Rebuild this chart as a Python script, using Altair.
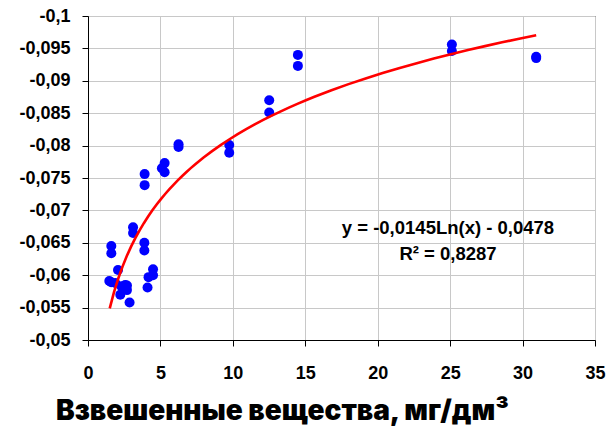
import altair as alt
import pandas as pd

# Scatter data
x_vals = [1.47, 1.61, 1.61, 1.60, 1.88, 2.07, 2.23, 2.30, 2.57, 2.69, 2.69, 2.87,
          3.11, 3.11, 3.89, 3.89, 3.91, 3.91, 4.11, 4.18, 4.49, 4.49,
          5.10, 5.29, 5.29, 6.25, 6.25, 9.75, 9.75, 12.51, 12.51, 14.49, 14.49,
          25.12, 25.12, 30.94, 30.94]
y_vals = [-0.0591, -0.0645, -0.0634, -0.0589, -0.0588, -0.0608, -0.0570, -0.0583, -0.0585, -0.0577, -0.0584, -0.0558,
          -0.0674, -0.0665, -0.0650, -0.0638, -0.0756, -0.0739, -0.0581, -0.0597, -0.0609, -0.0600,
          -0.0765, -0.0773, -0.0759, -0.0802, -0.0798, -0.0801, -0.0789, -0.0870, -0.0851, -0.0940, -0.0923,
          -0.0956, -0.0946, -0.0935, -0.0937]

x_ticks = [0, 5, 10, 15, 20, 25, 30, 35]
y_ticks = [-0.1, -0.095, -0.09, -0.085, -0.08, -0.075, -0.07, -0.065, -0.06, -0.055, -0.05]

eq_text = ["y = -0,0145Ln(x) - 0,0478", "R² = 0,8287"]
eq_x = [24.85, 24.85]
eq_y = [-0.0673, -0.0632]

x_title = "Взвешенные вещества, мг/дм³"

df = pd.DataFrame({"x": x_vals, "y": y_vals})
ann = pd.DataFrame({"t": eq_text, "x": eq_x, "y": eq_y})

xs = alt.Scale(domain=[0, 35], nice=False, zero=False)
ys = alt.Scale(domain=[-0.1, -0.05], nice=False, zero=False, reverse=True)

x_axis = alt.Axis(values=x_ticks, format="d", title=x_title, grid=True, labelOverlap=False,
                  labelFlush=False, labelBound=False,
                  labelFont="Liberation Sans", labelFontWeight="bold", labelFontSize=18,
                  labelColor="#000000", labelPadding=18, tickSize=6, tickColor="#000000",
                  domainColor="#000000", gridColor="#c8c8c8",
                  titleFont="Inter", titleFontWeight=900, titleFontSize=28,
                  titleColor="#000000", titleAlign="center", titleAnchor="start",
                  titleX=194, titleY=79, titleBaseline="alphabetic")
y_axis = alt.Axis(values=y_ticks, format=".3~f", title=None, grid=True, labelOverlap=False,
                  labelFlush=False, labelBound=False,
                  labelFont="Liberation Sans", labelFontWeight="bold", labelFontSize=18,
                  labelColor="#000000", labelPadding=12, tickSize=6, tickColor="#000000",
                  domainColor="#000000", gridColor="#c8c8c8")

X = alt.X("x:Q", scale=xs, axis=x_axis)
Y = alt.Y("y:Q", scale=ys, axis=y_axis)

base = alt.Chart(df)

points = base.mark_circle(color="#0000ff", opacity=1, size=100).encode(x=X, y=Y)

trend = base.transform_regression("x", "y", method="log", extent=[1.5, 30.94]).mark_line(
    color="#ff0000", strokeWidth=2.6
).encode(x=X, y=Y)

text = alt.Chart(ann).mark_text(
    font="Liberation Sans", fontWeight="bold", fontSize=18.5, color="#000000", align="center", baseline="middle"
).encode(x=X, y=Y, text="t:N")

chart = alt.layer(points, trend, text).properties(
    width=507, height=324,
    autosize=alt.AutoSizeParams(type="none"),
    padding={"left": 88, "top": 16, "right": 20, "bottom": 86},
    background="#ffffff",
).configure(
    locale={"number": {"decimal": ",", "thousands": " ", "grouping": [3],
                       "currency": ["", ""], "minus": "-"}}
).configure_view(stroke="#000000", strokeWidth=1)

chart.save("out.html", embed_options={"renderer": "svg", "actions": False})
